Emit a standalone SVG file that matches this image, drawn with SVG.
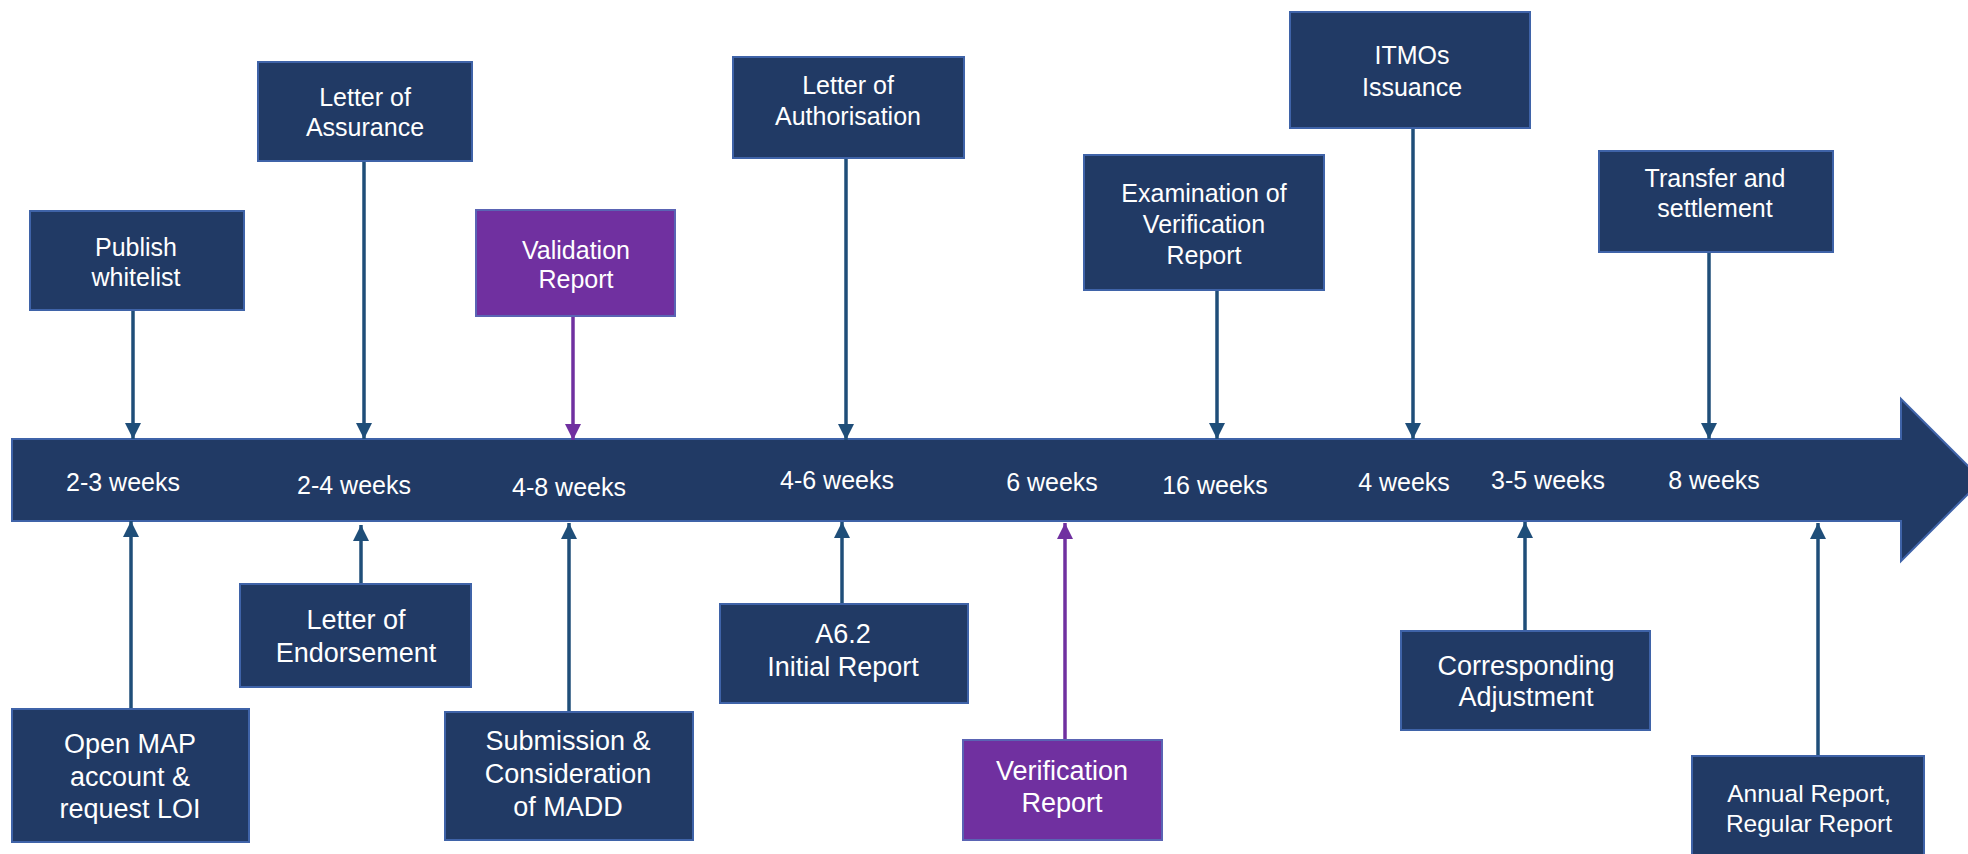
<svg xmlns="http://www.w3.org/2000/svg" width="1968" height="854" viewBox="0 0 1968 854">
<style>
.box{fill:#213a65;stroke:#3f63a8;stroke-width:2}
.pbox{fill:#7030a0;stroke:#5a64b4;stroke-width:2}
.t{font-family:"Liberation Sans",Arial,sans-serif;fill:#ffffff;text-anchor:middle}
.ts{font-size:25px}
.tb{font-size:27px}
.tw{font-size:25px}
.c{fill:none;stroke:#1f4e79;stroke-width:3.5}
.cp{fill:none;stroke:#7030a0;stroke-width:3.5}
</style>
<defs>
<marker id="ah" markerUnits="userSpaceOnUse" markerWidth="16" markerHeight="16" viewBox="0 0 16 16" refX="16" refY="8" orient="auto"><path d="M0,0 L16,8 L0,16 Z" fill="#1f4e79"/></marker>
<marker id="ahp" markerUnits="userSpaceOnUse" markerWidth="16" markerHeight="16" viewBox="0 0 16 16" refX="16" refY="8" orient="auto"><path d="M0,0 L16,8 L0,16 Z" fill="#7030a0"/></marker>
</defs>
<rect width="1968" height="854" fill="#ffffff"/>
<g id="timeline">
<path d="M12,439 L1901,439 L1901,399 L1982,480 L1901,561 L1901,521 L12,521 Z" class="box"/>
<text class="t tw" x="123" y="491">2-3 weeks</text>
<text class="t tw" x="354" y="494">2-4 weeks</text>
<text class="t tw" x="569" y="496">4-8 weeks</text>
<text class="t tw" x="837" y="489">4-6 weeks</text>
<text class="t tw" x="1052" y="491">6 weeks</text>
<text class="t tw" x="1215" y="494">16 weeks</text>
<text class="t tw" x="1404" y="491">4 weeks</text>
<text class="t tw" x="1548" y="489">3-5 weeks</text>
<text class="t tw" x="1714" y="489">8 weeks</text>
</g>
<g id="connectors">
<line class="c" x1="133" y1="310" x2="133" y2="439" marker-end="url(#ah)"/>
<line class="c" x1="364" y1="161" x2="364" y2="439" marker-end="url(#ah)"/>
<line class="cp" x1="573" y1="316" x2="573" y2="440" marker-end="url(#ahp)"/>
<line class="c" x1="846" y1="158" x2="846" y2="440" marker-end="url(#ah)"/>
<line class="c" x1="1217" y1="290" x2="1217" y2="439" marker-end="url(#ah)"/>
<line class="c" x1="1413" y1="128" x2="1413" y2="439" marker-end="url(#ah)"/>
<line class="c" x1="1709" y1="252" x2="1709" y2="439" marker-end="url(#ah)"/>
<line class="c" x1="131" y1="709" x2="131" y2="521" marker-end="url(#ah)"/>
<line class="c" x1="361" y1="584" x2="361" y2="525" marker-end="url(#ah)"/>
<line class="c" x1="569" y1="712" x2="569" y2="523" marker-end="url(#ah)"/>
<line class="c" x1="842" y1="604" x2="842" y2="522" marker-end="url(#ah)"/>
<line class="cp" x1="1065" y1="740" x2="1065" y2="523" marker-end="url(#ahp)"/>
<line class="c" x1="1525" y1="631" x2="1525" y2="522" marker-end="url(#ah)"/>
<line class="c" x1="1818" y1="756" x2="1818" y2="523" marker-end="url(#ah)"/>
</g>
<g id="publish-whitelist">
<rect class="box" x="30" y="211" width="214" height="99"/>
<text class="t ts" x="136" y="256">Publish</text>
<text class="t ts" x="136" y="286">whitelist</text>
</g>
<g id="letter-of-assurance">
<rect class="box" x="258" y="62" width="214" height="99"/>
<text class="t ts" x="365" y="106">Letter of</text>
<text class="t ts" x="365" y="136">Assurance</text>
</g>
<g id="validation-report">
<rect class="pbox" x="476" y="210" width="199" height="106"/>
<text class="t ts" x="576" y="259">Validation</text>
<text class="t ts" x="576" y="288">Report</text>
</g>
<g id="letter-of-authorisation">
<rect class="box" x="733" y="57" width="231" height="101"/>
<text class="t ts" x="848" y="94">Letter of</text>
<text class="t ts" x="848" y="125">Authorisation</text>
</g>
<g id="examination">
<rect class="box" x="1084" y="155" width="240" height="135"/>
<text class="t ts" x="1204" y="202">Examination of</text>
<text class="t ts" x="1204" y="233">Verification</text>
<text class="t ts" x="1204" y="264">Report</text>
</g>
<g id="itmos-issuance">
<rect class="box" x="1290" y="12" width="240" height="116"/>
<text class="t ts" x="1412" y="64">ITMOs</text>
<text class="t ts" x="1412" y="96">Issuance</text>
</g>
<g id="transfer-settlement">
<rect class="box" x="1599" y="151" width="234" height="101"/>
<text class="t ts" x="1715" y="187">Transfer and</text>
<text class="t ts" x="1715" y="217">settlement</text>
</g>
<g id="open-map">
<rect class="box" x="12" y="709" width="237" height="133"/>
<text class="t tb" x="130" y="753">Open MAP</text>
<text class="t tb" x="130" y="786">account &amp;</text>
<text class="t tb" x="130" y="818">request LOI</text>
</g>
<g id="letter-of-endorsement">
<rect class="box" x="240" y="584" width="231" height="103"/>
<text class="t tb" x="356" y="629">Letter of</text>
<text class="t tb" x="356" y="662">Endorsement</text>
</g>
<g id="submission">
<rect class="box" x="445" y="712" width="248" height="128"/>
<text class="t tb" x="568" y="750">Submission &amp;</text>
<text class="t tb" x="568" y="783">Consideration</text>
<text class="t tb" x="568" y="816">of MADD</text>
</g>
<g id="a62-initial-report">
<rect class="box" x="720" y="604" width="248" height="99"/>
<text class="t tb" x="843" y="643">A6.2</text>
<text class="t tb" x="843" y="676">Initial Report</text>
</g>
<g id="verification-report">
<rect class="pbox" x="963" y="740" width="199" height="100"/>
<text class="t tb" x="1062" y="780">Verification</text>
<text class="t tb" x="1062" y="812">Report</text>
</g>
<g id="corresponding-adjustment">
<rect class="box" x="1401" y="631" width="249" height="99"/>
<text class="t tb" x="1526" y="675">Corresponding</text>
<text class="t tb" x="1526" y="706">Adjustment</text>
</g>
<g id="annual-report">
<rect class="box" x="1692" y="756" width="232" height="100"/>
<text class="t" style="font-size:24.5px" x="1809" y="802">Annual Report,</text>
<text class="t" style="font-size:24.5px" x="1809" y="832">Regular Report</text>
</g>
</svg>
